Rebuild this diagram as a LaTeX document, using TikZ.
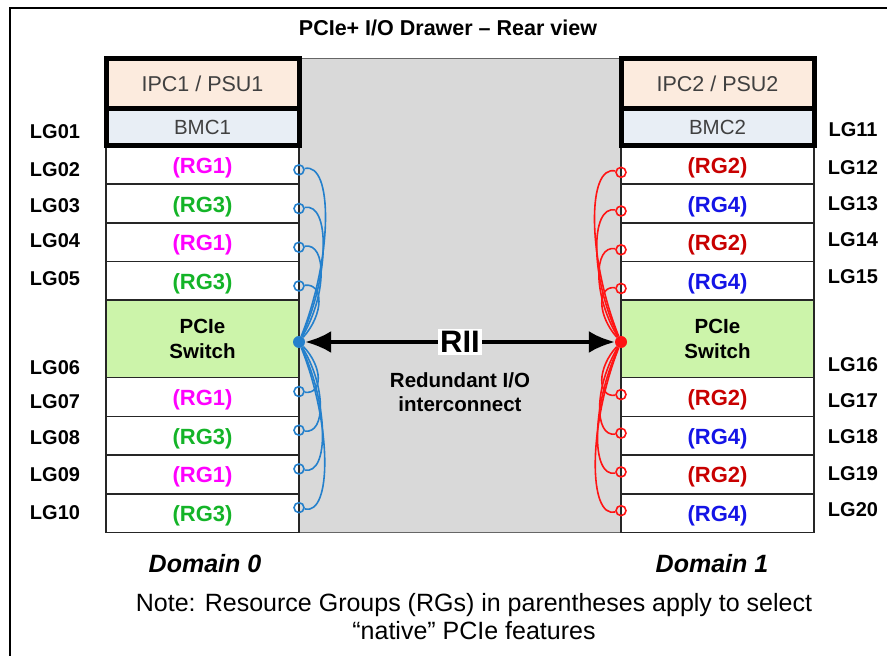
\documentclass[tikz,border=0pt]{standalone}
\usepackage{fontspec}
\setmainfont{Liberation Sans}
\usetikzlibrary{positioning, arrows.meta, backgrounds}

\definecolor{ipcfill}{RGB}{252,235,222}
\definecolor{bmcfill}{RGB}{232,238,245}
\definecolor{switchfill}{RGB}{204,244,170}
\definecolor{drawergray}{RGB}{217,217,217}
\definecolor{wireblue}{RGB}{36,128,204}
\definecolor{wirered}{RGB}{255,20,20}
\definecolor{rgone}{RGB}{255,0,255}
\definecolor{rgthree}{RGB}{20,180,40}
\definecolor{rgtwo}{RGB}{200,0,0}
\definecolor{rgfour}{RGB}{20,20,230}
\definecolor{darktext}{RGB}{64,64,64}

\tikzstyle{slot} = [
    rectangle,
    minimum width=193pt, minimum height=38.7pt,
    inner sep=0pt, outer sep=0pt,
    text centered,
    draw=black!85, line width=1.6pt,
    font=\fontsize{22}{26}\selectfont\bfseries
]
\tikzstyle{rgrow} = [slot, text height=19pt, text depth=2pt]
\tikzstyle{ipcbox} = [
    slot, minimum height=50pt,
    fill=ipcfill, text=darktext,
    font=\fontsize{21.5}{25}\selectfont
]
\tikzstyle{bmcbox} = [
    slot, minimum height=37pt,
    fill=bmcfill, text=darktext,
    font=\fontsize{20.5}{25}\selectfont
]
\tikzstyle{switchbox} = [
    slot, minimum height=77.4pt,
    fill=switchfill, align=center,
    font=\fontsize{20.5}{25}\selectfont\bfseries
]
\tikzstyle{lglabel} = [font=\fontsize{20}{24}\selectfont\bfseries]
\tikzstyle{thickframe} = [draw=black, line width=5pt]
\tikzstyle{drawer} = [fill=drawergray, draw=black!60, line width=1pt]
\tikzstyle{lport} = [circle, draw=wireblue, line width=1.6pt, minimum size=10pt, inner sep=0pt]
\tikzstyle{rport} = [circle, draw=wirered, line width=1.6pt, minimum size=10pt, inner sep=0pt]
\tikzstyle{lhubdot} = [circle, fill=wireblue, minimum size=12pt, inner sep=0pt]
\tikzstyle{rhubdot} = [circle, fill=wirered, minimum size=12pt, inner sep=0pt]
\tikzstyle{lwire} = [draw=wireblue, line width=1.6pt]
\tikzstyle{rwire} = [draw=wirered, line width=1.6pt]
\tikzstyle{riiarrow} = [line width=4pt, {Latex[length=26pt,width=22pt]}-{Latex[length=26pt,width=22pt]}]
\tikzstyle{riilabel} = [fill=white, inner sep=2pt, font=\fontsize{31}{34}\selectfont\bfseries]
\tikzstyle{riitext} = [align=center, font=\fontsize{20.5}{24}\selectfont\bfseries]
\tikzstyle{domainlabel} = [font=\fontsize{25}{29}\selectfont\bfseries\itshape]

\begin{document}
\begin{tikzpicture}[x=1pt, y=1pt]
        \useasboundingbox (0,0) rectangle (887,656);
        \draw [line width=1.5pt] (10,-10) -- (10,648) -- (900,648);
        \node (title) [font=\fontsize{21.5}{25}\selectfont\bfseries] at (448,628) {PCIe+ I/O Drawer -- Rear view};

        % Domain 0 blocks
        \node (ipc1) [ipcbox] at (202.5,572.5) {IPC1 / PSU1};
        \node (bmc1) [bmcbox, below=0pt of ipc1] {BMC1};
        \node (l02) [rgrow, below=0pt of bmc1, text=rgone] {(RG1)};
        \node (l03) [rgrow, below=0pt of l02, text=rgthree] {(RG3)};
        \node (l04) [rgrow, below=0pt of l03, text=rgone] {(RG1)};
        \node (l05) [rgrow, below=0pt of l04, text=rgthree] {(RG3)};
        \node (lsw) [switchbox, below=0pt of l05] {PCIe\\Switch};
        \node (l07) [rgrow, below=0pt of lsw, text=rgone] {(RG1)};
        \node (l08) [rgrow, below=0pt of l07, text=rgthree] {(RG3)};
        \node (l09) [rgrow, below=0pt of l08, text=rgone] {(RG1)};
        \node (l10) [rgrow, below=0pt of l09, text=rgthree] {(RG3)};
        \draw [thickframe] (ipc1.north west) rectangle (bmc1.south east);
        \draw [thickframe] (ipc1.south west) -- (ipc1.south east);

        % Domain 1 blocks
        \node (ipc2) [ipcbox] at (717.5,572.5) {IPC2 / PSU2};
        \node (bmc2) [bmcbox, below=0pt of ipc2] {BMC2};
        \node (r12) [rgrow, below=0pt of bmc2, text=rgtwo] {(RG2)};
        \node (r13) [rgrow, below=0pt of r12, text=rgfour] {(RG4)};
        \node (r14) [rgrow, below=0pt of r13, text=rgtwo] {(RG2)};
        \node (r15) [rgrow, below=0pt of r14, text=rgfour] {(RG4)};
        \node (rsw) [switchbox, below=0pt of r15] {PCIe\\Switch};
        \node (r17) [rgrow, below=0pt of rsw, text=rgtwo] {(RG2)};
        \node (r18) [rgrow, below=0pt of r17, text=rgfour] {(RG4)};
        \node (r19) [rgrow, below=0pt of r18, text=rgtwo] {(RG2)};
        \node (r20) [rgrow, below=0pt of r19, text=rgfour] {(RG4)};
        \draw [thickframe] (ipc2.north west) rectangle (bmc2.south east);
        \draw [thickframe] (ipc2.south west) -- (ipc2.south east);

        \begin{scope}[on background layer]
            \draw [drawer] (ipc1.north east) rectangle (r20.south west);
        \end{scope}

        % Labels
        \node (lg01) [lglabel] at (55,524) {LG01};
        \node (lg02) [lglabel] at (55,486) {LG02};
        \node (lg03) [lglabel] at (55,450) {LG03};
        \node (lg04) [lglabel] at (55,415) {LG04};
        \node (lg05) [lglabel] at (55,377) {LG05};
        \node (lg06) [lglabel] at (55,288) {LG06};
        \node (lg07) [lglabel] at (55,254) {LG07};
        \node (lg08) [lglabel] at (55,218) {LG08};
        \node (lg09) [lglabel] at (55,181) {LG09};
        \node (lg10) [lglabel] at (55,143) {LG10};
        \node (lg11) [lglabel] at (853,526) {LG11};
        \node (lg12) [lglabel] at (853,488) {LG12};
        \node (lg13) [lglabel] at (853,452) {LG13};
        \node (lg14) [lglabel] at (853,416) {LG14};
        \node (lg15) [lglabel] at (853,379) {LG15};
        \node (lg16) [lglabel] at (853,291) {LG16};
        \node (lg17) [lglabel] at (853,255) {LG17};
        \node (lg18) [lglabel] at (853,219) {LG18};
        \node (lg19) [lglabel] at (853,182) {LG19};
        \node (lg20) [lglabel] at (853,146) {LG20};

        % Ports
        \node (lhub) [lhubdot] at ([yshift=-3pt]lsw.east) {};
        \node (lp02) [lport] at ([yshift=-5pt]l02.east) {};
        \node (lp03) [lport] at ([yshift=-5pt]l03.east) {};
        \node (lp04) [lport] at ([yshift=-5pt]l04.east) {};
        \node (lp05) [lport] at ([yshift=-5pt]l05.east) {};
        \node (lp07) [lport] at ([yshift=5.5pt]l07.east) {};
        \node (lp08) [lport] at ([yshift=5.5pt]l08.east) {};
        \node (lp09) [lport] at ([yshift=5.5pt]l09.east) {};
        \node (lp10) [lport] at ([yshift=5.5pt]l10.east) {};
        \node (rhub) [rhubdot] at ([yshift=-3pt]rsw.west) {};
        \node (rp12) [rport] at ([yshift=-7.5pt]r12.west) {};
        \node (rp13) [rport] at ([yshift=-7.5pt]r13.west) {};
        \node (rp14) [rport] at ([yshift=-7.5pt]r14.west) {};
        \node (rp15) [rport] at ([yshift=-7.5pt]r15.west) {};
        \node (rp17) [rport] at ([yshift=2.5pt]r17.west) {};
        \node (rp18) [rport] at ([yshift=2.5pt]r18.west) {};
        \node (rp19) [rport] at ([yshift=2.5pt]r19.west) {};
        \node (rp20) [rport] at ([yshift=2.5pt]r20.west) {};

        % Draw wires
        \draw [lwire] (lp02) .. controls +(34,8) and +(34,86) .. (lhub);
        \draw [lwire] (lp03) .. controls +(31,6) and +(31,67) .. (lhub);
        \draw [lwire] (lp04) .. controls +(28,5) and +(28,47) .. (lhub);
        \draw [lwire] (lp05) .. controls +(25,3) and +(25,28) .. (lhub);
        \draw [lwire] (lp07) .. controls +(24,-3) and +(24,-25) .. (lhub);
        \draw [lwire] (lp08) .. controls +(27,-4) and +(27,-44) .. (lhub);
        \draw [lwire] (lp09) .. controls +(30,-6) and +(30,-64) .. (lhub);
        \draw [lwire] (lp10) .. controls +(33,-8) and +(33,-83) .. (lhub);
        \draw [rwire] (rp12) .. controls +(-34,8) and +(-34,85) .. (rhub);
        \draw [rwire] (rp13) .. controls +(-31,6) and +(-31,65) .. (rhub);
        \draw [rwire] (rp14) .. controls +(-28,5) and +(-28,46) .. (rhub);
        \draw [rwire] (rp15) .. controls +(-24,3) and +(-24,27) .. (rhub);
        \draw [rwire] (rp17) .. controls +(-24,-3) and +(-24,-26) .. (rhub);
        \draw [rwire] (rp18) .. controls +(-27,-4) and +(-27,-45) .. (rhub);
        \draw [rwire] (rp19) .. controls +(-30,-6) and +(-30,-65) .. (rhub);
        \draw [rwire] (rp20) .. controls +(-33,-8) and +(-33,-84) .. (rhub);

        % Interconnect
        \draw [riiarrow] (lhub) -- (rhub);
        \node (rii) [riilabel] at (460,314) {RII};
        \node (riitxt) [riitext] at (460,264) {Redundant I/O\\interconnect};

        \node (dom0) [domainlabel] at (205,92) {Domain 0};
        \node (dom1) [domainlabel] at (712,92) {Domain 1};
        \node (note) [align=center, font=\fontsize{25}{28}\selectfont] at (474,39) {Note: Resource Groups (RGs) in parentheses apply to select\\“native” PCIe features};
    \end{tikzpicture}
\end{document}
